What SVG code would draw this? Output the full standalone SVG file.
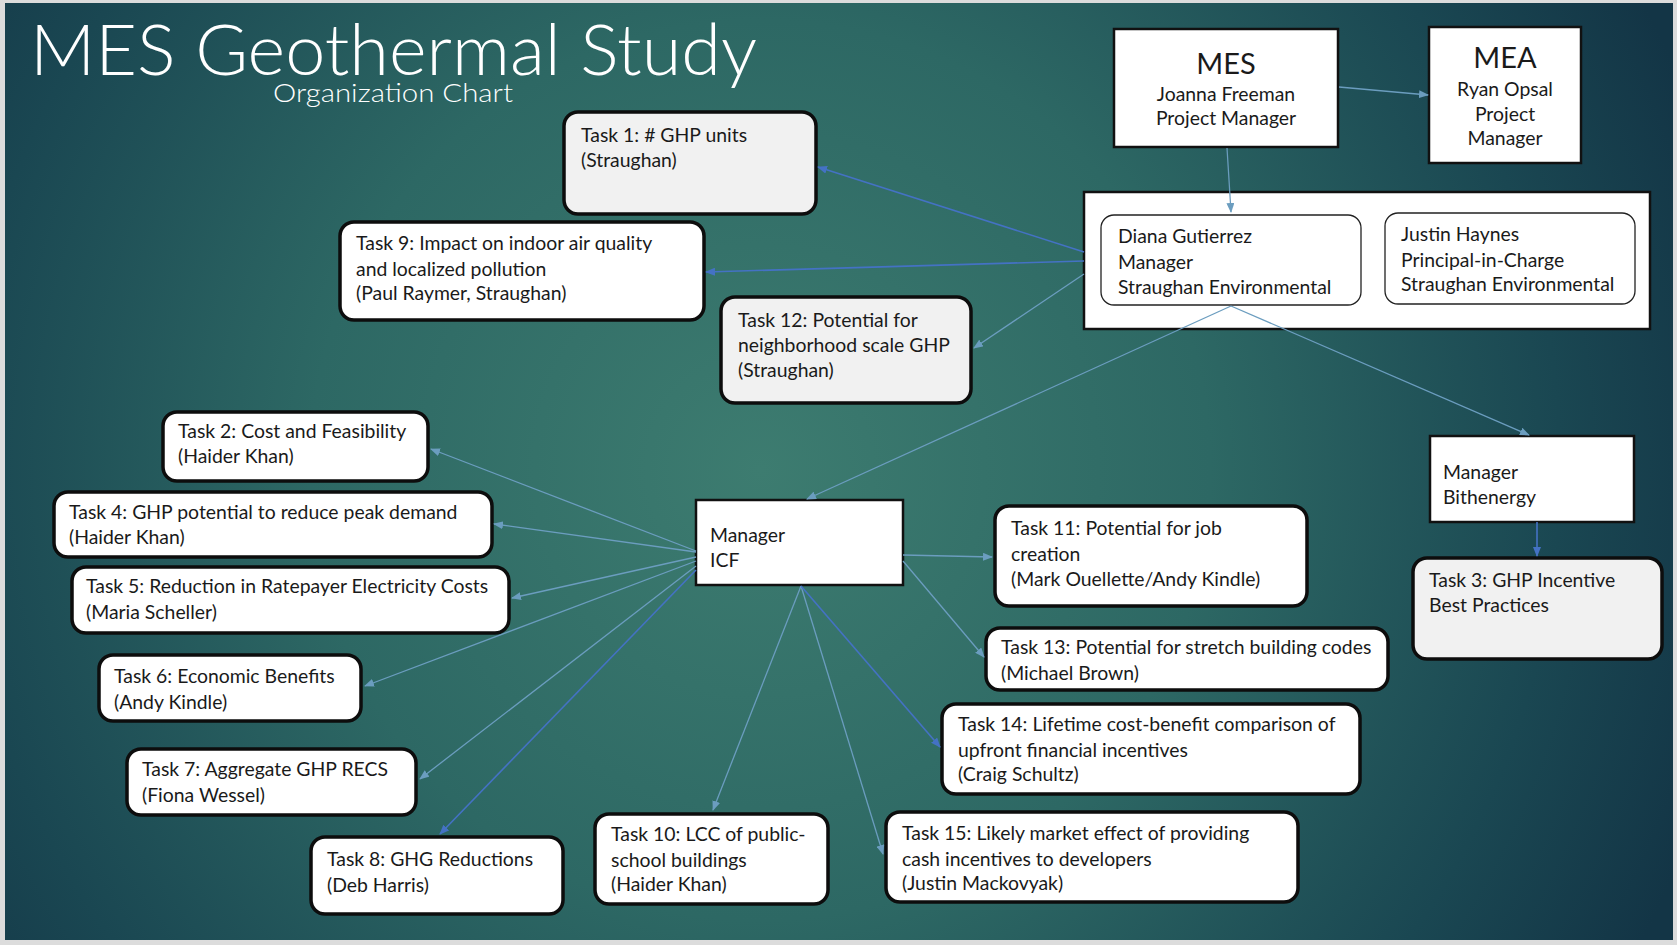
<svg xmlns="http://www.w3.org/2000/svg" width="1677" height="945" viewBox="0 0 1677 945">
<defs>
<radialGradient id="bg" gradientUnits="userSpaceOnUse" cx="760" cy="470" r="1000">
<stop offset="0" stop-color="#3d7c70"/>
<stop offset="0.45" stop-color="#2d6864"/>
<stop offset="0.8" stop-color="#1a4752"/>
<stop offset="1" stop-color="#133546"/>
</radialGradient>
<marker id="al" markerUnits="userSpaceOnUse" markerWidth="10" markerHeight="8" refX="9" refY="4" orient="auto">
<path d="M0,0 L10,4 L0,8 z" fill="#6b9dbf"/>
</marker>
<marker id="ab" markerUnits="userSpaceOnUse" markerWidth="10" markerHeight="8" refX="9" refY="4" orient="auto">
<path d="M0,0 L10,4 L0,8 z" fill="#4472c4"/>
</marker>
</defs>
<style>
.t{font-family:Lato,"Liberation Sans",sans-serif;font-size:19.4px;fill:#1a1a1a}
.big{font-size:29px}
.c{text-anchor:middle}
.sq{fill:#ffffff;stroke:#111111;stroke-width:2.5}
.rb{fill:#ffffff;stroke:#0d0d0d;stroke-width:3.5}
.rg{fill:#f1f1f1;stroke:#0d0d0d;stroke-width:3.5}
.ri{fill:#ffffff;stroke:#222222;stroke-width:1.3}
.l{stroke:#6b9dbf;stroke-width:1.3;fill:none;marker-end:url(#al)}
.b{stroke:#4472c4;stroke-width:1.6;fill:none;marker-end:url(#ab)}
.ttl{font-family:Lato,"Liberation Sans",sans-serif;font-weight:300;fill:#ffffff}
</style>
<rect x="0" y="0" width="1677" height="945" fill="#dcdcdc"/>
<rect x="5" y="3" width="1668" height="937" fill="url(#bg)"/>
<text class="ttl" x="30" y="75" font-size="70" textLength="727" lengthAdjust="spacingAndGlyphs">MES Geothermal Study</text>
<text class="ttl" x="273" y="102" font-size="25" textLength="240" lengthAdjust="spacingAndGlyphs">Organization Chart</text>

<g id="mes">
<rect class="sq" x="1114" y="29" width="224" height="118"/>
<text class="t c big" x="1226" y="74">MES</text>
<text class="t c" x="1226" y="101">Joanna Freeman</text>
<text class="t c" x="1226" y="125">Project Manager</text>
</g>
<g id="mea">
<rect class="sq" x="1429" y="27" width="152" height="136"/>
<text class="t c big" x="1505" y="68">MEA</text>
<text class="t c" x="1505" y="96">Ryan Opsal</text>
<text class="t c" x="1505" y="121">Project</text>
<text class="t c" x="1505" y="145">Manager</text>
</g>
<g id="straughan">
<rect class="sq" x="1084" y="192" width="566" height="137"/>
<g id="diana">
<rect class="ri" x="1101" y="215" width="260" height="90" rx="13"/>
<text class="t" x="1118" y="243">Diana Gutierrez</text>
<text class="t" x="1118" y="269">Manager</text>
<text class="t" x="1118" y="294">Straughan Environmental</text>
</g>
<g id="justin">
<rect class="ri" x="1385" y="213" width="250" height="91" rx="13"/>
<text class="t" x="1401" y="241">Justin Haynes</text>
<text class="t" x="1401" y="267">Principal-in-Charge</text>
<text class="t" x="1401" y="291">Straughan Environmental</text>
</g>
</g>
<g id="task1">
<rect class="rg" x="564" y="112" width="252" height="102" rx="14"/>
<text class="t" x="581" y="142">Task 1: # GHP units</text>
<text class="t" x="581" y="167">(Straughan)</text>
</g>
<g id="task9">
<rect class="rb" x="340" y="222" width="364" height="98" rx="14"/>
<text class="t" x="356" y="250">Task 9: Impact on indoor air quality</text>
<text class="t" x="356" y="276">and localized pollution</text>
<text class="t" x="356" y="300">(Paul Raymer, Straughan)</text>
</g>
<g id="task12">
<rect class="rg" x="721" y="297" width="250" height="106" rx="14"/>
<text class="t" x="738" y="327">Task 12: Potential for</text>
<text class="t" x="738" y="352">neighborhood scale GHP</text>
<text class="t" x="738" y="377">(Straughan)</text>
</g>
<g id="task2">
<rect class="rb" x="163" y="412" width="265" height="69" rx="14"/>
<text class="t" x="178" y="438">Task 2: Cost and Feasibility</text>
<text class="t" x="178" y="463">(Haider Khan)</text>
</g>
<g id="task4">
<rect class="rb" x="54" y="492" width="438" height="65" rx="14"/>
<text class="t" x="69" y="519">Task 4: GHP potential to reduce peak demand</text>
<text class="t" x="69" y="544">(Haider Khan)</text>
</g>
<g id="task5">
<rect class="rb" x="72" y="567" width="437" height="66" rx="14"/>
<text class="t" x="86" y="593">Task 5: Reduction in Ratepayer Electricity Costs</text>
<text class="t" x="86" y="619">(Maria Scheller)</text>
</g>
<g id="task6">
<rect class="rb" x="99" y="655" width="262" height="66" rx="14"/>
<text class="t" x="114" y="683">Task 6: Economic Benefits</text>
<text class="t" x="114" y="709">(Andy Kindle)</text>
</g>
<g id="task7">
<rect class="rb" x="127" y="749" width="289" height="66" rx="14"/>
<text class="t" x="142" y="776">Task 7: Aggregate GHP RECS</text>
<text class="t" x="142" y="802">(Fiona Wessel)</text>
</g>
<g id="task8">
<rect class="rb" x="311" y="837" width="252" height="77" rx="14"/>
<text class="t" x="327" y="866">Task 8: GHG Reductions</text>
<text class="t" x="327" y="892">(Deb Harris)</text>
</g>
<g id="task10">
<rect class="rb" x="595" y="814" width="233" height="90" rx="14"/>
<text class="t" x="611" y="841">Task 10: LCC of public-</text>
<text class="t" x="611" y="867">school buildings</text>
<text class="t" x="611" y="891">(Haider Khan)</text>
</g>
<g id="task15">
<rect class="rb" x="886" y="812" width="412" height="90" rx="14"/>
<text class="t" x="902" y="840">Task 15: Likely market effect of providing</text>
<text class="t" x="902" y="866">cash incentives to developers</text>
<text class="t" x="902" y="890">(Justin Mackovyak)</text>
</g>
<g id="task14">
<rect class="rb" x="942" y="704" width="418" height="90" rx="14"/>
<text class="t" x="958" y="731">Task 14: Lifetime cost-benefit comparison of</text>
<text class="t" x="958" y="757">upfront financial incentives</text>
<text class="t" x="958" y="781">(Craig Schultz)</text>
</g>
<g id="task13">
<rect class="rb" x="986" y="628" width="402" height="62" rx="14"/>
<text class="t" x="1001" y="654">Task 13: Potential for stretch building codes</text>
<text class="t" x="1001" y="680">(Michael Brown)</text>
</g>
<g id="task11">
<rect class="rb" x="995" y="506" width="312" height="100" rx="14"/>
<text class="t" x="1011" y="535">Task 11: Potential for job</text>
<text class="t" x="1011" y="561">creation</text>
<text class="t" x="1011" y="586">(Mark Ouellette/Andy Kindle)</text>
</g>
<g id="task3">
<rect class="rg" x="1413" y="558" width="249" height="101" rx="14"/>
<text class="t" x="1429" y="587">Task 3: GHP Incentive</text>
<text class="t" x="1429" y="612">Best Practices</text>
</g>
<g id="bithenergy">
<rect class="sq" x="1430" y="436" width="204" height="86"/>
<text class="t" x="1443" y="479">Manager</text>
<text class="t" x="1443" y="504">Bithenergy</text>
</g>
<g id="icf">
<rect class="sq" x="696" y="500" width="207" height="85"/>
<text class="t" x="710" y="542">Manager</text>
<text class="t" x="710" y="567">ICF</text>
</g>

<g id="connectors">
<line class="l" x1="1339" y1="87" x2="1428" y2="95"/>
<line class="l" x1="1227" y1="148" x2="1231" y2="212"/>
<line class="l" x1="1231" y1="306" x2="807" y2="499"/>
<line class="l" x1="1231" y1="306" x2="1529" y2="435"/>
<line class="b" x1="1084" y1="252" x2="818" y2="167"/>
<line class="b" x1="1084" y1="261" x2="706" y2="272"/>
<line class="l" x1="1084" y1="274" x2="974" y2="348"/>
<line class="l" x1="696" y1="551" x2="431" y2="449"/>
<line class="l" x1="696" y1="552" x2="494" y2="524"/>
<line class="l" x1="696" y1="557" x2="512" y2="598"/>
<line class="l" x1="696" y1="561" x2="365" y2="686"/>
<line class="l" x1="696" y1="566" x2="420" y2="779"/>
<line class="b" x1="696" y1="570" x2="440" y2="834"/>
<line class="l" x1="801" y1="586" x2="713" y2="810"/>
<line class="l" x1="801" y1="586" x2="883" y2="854"/>
<line class="b" x1="801" y1="586" x2="940" y2="747"/>
<line class="l" x1="903" y1="555" x2="992" y2="557"/>
<line class="l" x1="903" y1="561" x2="984" y2="657"/>
<line class="b" x1="1537" y1="522" x2="1537" y2="556"/>
</g>
</svg>
